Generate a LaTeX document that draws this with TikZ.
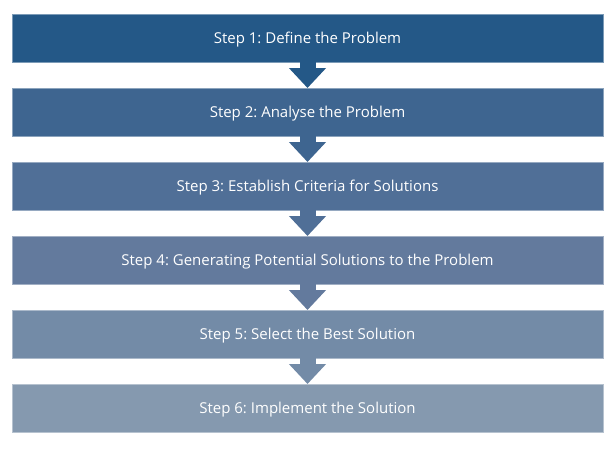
\documentclass[tikz,border=0pt]{standalone}
\usepackage{fontspec}
\setmainfont{Open Sans}
\usetikzlibrary{arrows.meta}
\frenchspacing

\definecolor{c1}{RGB}{36,88,135}
\definecolor{c2}{RGB}{62,101,144}
\definecolor{c3}{RGB}{80,111,151}
\definecolor{c4}{RGB}{99,122,157}
\definecolor{c5}{RGB}{115,139,167}
\definecolor{c6}{RGB}{133,153,175}

\begin{document}
\begin{tikzpicture}[
    x=1pt, y=1pt,
    stage/.style={rectangle, draw=#1!60!white, line width=0.8pt, fill=#1, text=white, minimum width=591pt, minimum height=48pt, inner sep=0pt, outer sep=0pt, text depth=-1pt, font=\fontsize{15}{18}\selectfont},
    blockarrow/.style={#1, line width=16pt, -{Triangle[width=36pt, length=20pt]}}
]
    \useasboundingbox (0,0) rectangle (614,-448);

    \node[stage=c1] (s1) at (307.5,-38) {Step 1: Define the Problem};
    \node[stage=c2] (s2) at (307.5,-112) {Step 2: Analyse the Problem};
    \node[stage=c3] (s3) at (307.5,-186) {Step 3: Establish Criteria for Solutions};
    \node[stage=c4] (s4) at (307.5,-260) {Step 4: Generating Potential Solutions to the Problem};
    \node[stage=c5] (s5) at (307.5,-334) {Step 5: Select the Best Solution};
    \node[stage=c6] (s6) at (307.5,-408) {Step 6: Implement the Solution};

    \draw[blockarrow=c1] (s1) -- (s2);
    \draw[blockarrow=c2] (s2) -- (s3);
    \draw[blockarrow=c3] (s3) -- (s4);
    \draw[blockarrow=c4] (s4) -- (s5);
    \draw[blockarrow=c5] (s5) -- (s6);
\end{tikzpicture}
\end{document}
